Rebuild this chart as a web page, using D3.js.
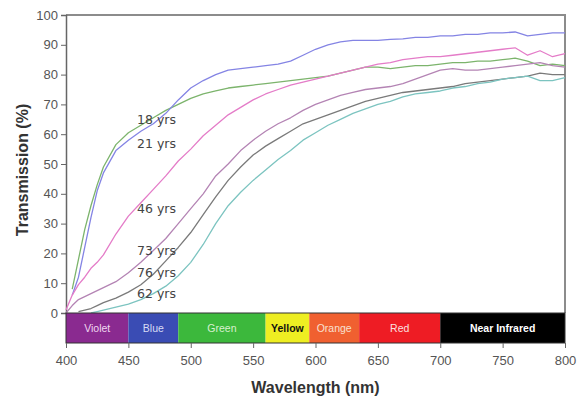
<!DOCTYPE html>
<html>
<head>
<meta charset="utf-8">
<script src="https://cdn.jsdelivr.net/npm/d3@7"></script>
<style>
  body { margin: 0; background: #fff; }
  svg { display: block; font-family: "Liberation Sans", Arial, sans-serif; }
</style>
</head>
<body>
<svg id="chart" width="579" height="399"></svg>
<script>
// wavelengths (nm) shared by every curve, null = not drawn there
var wavelengths = [400,405,410,415,420,425,430,440,450,460,470,480,490,500,510,520,530,540,550,560,570,580,590,600,610,620,630,640,650,660,670,680,690,700,710,720,730,740,750,760,770,780,790,800];

var yrs18 = [null,8,18,28,36,43,49,56.5,60.5,63,65.5,68,70,72,73.5,74.5,75.5,76,76.5,77,77.5,78,78.5,79,79.5,80.5,81.5,82.5,82.5,82,82.5,83,83,83.5,84,84,84.5,84.5,85,85.5,84.5,83,83.5,83];
var yrs21 = [null,6,12,22,32,41,47,54.5,58,61,63.5,67,71.5,75.5,78,80,81.5,82,82.5,83,83.5,84.5,86.5,88.5,90,91,91.5,91.5,91.5,91.8,92,92.5,92.5,93,93,93.5,93.5,94,94,94.3,93,93.5,94,94];
var yrs46 = [1,6,9.5,12,15,17,19.5,26.5,32.5,37,41.5,46,51,55,59.5,63,66.5,69,71.5,73.5,75,76.5,77.5,78.5,79.5,80.5,81.5,82.5,83.5,84,85,85.5,86,86,86.5,87,87.5,88,88.5,89,86.5,88,86,87];
var yrs73 = [0,2.5,4.5,5.5,6.5,7.5,8.5,10.5,13.5,17,21,25,30,35,40,46,50,54.5,58,61,63.5,65.5,68,70,71.5,73,74,75,75.5,76,77,78.5,80,81.5,82,81.5,81.5,82,82.5,83,83.5,84,83,82.5];
var yrs76 = [null,null,0.5,1,1.5,2.5,3.5,5,7,9.5,13,17.5,22,27,33,39,44.5,49,53,56,58.5,61,63.5,65,66.5,68,69.5,71,72,73,74,74.5,75,75.5,76,77,77.5,78,78.5,79,79.5,80.5,80,80];
var yrs62 = [null,null,null,null,0,0.5,1,2,3,4.5,6.5,9,12.5,17,23,30,36,40.5,44.5,48,51.5,54.5,58,60.5,63,65,67,68.5,70,71,72.5,73.5,74,74.5,75.5,76,77,77.5,78.5,79,79.5,78,78,79];

var seriesNames = ["18 yrs","21 yrs","46 yrs","73 yrs","76 yrs","62 yrs"];
var seriesValues = [yrs18, yrs21, yrs46, yrs73, yrs76, yrs62];
var seriesColors = ["#7cb46c","#8484e4","#e47cc8","#b484b4","#7a7a7a","#7cc4c0"];

// colour bands of the spectrum
var bandNames = ["Violet","Blue","Green","Yellow","Orange","Red","Near Infrared"];
var bandStarts = [400,450,490,560,595,635,700];
var bandEnds = [450,490,560,595,635,700,800];
var bandColors = ["#8a2a90","#3a4cb4","#3cb83c","#eeee22","#f06030","#ee1c24","#000000"];
var bandTextColors = ["#f0d8f0","#d8dcf4","#d8f0d0","#111111","#f8e0d0","#fbe0e0","#ffffff"];

var xTicks = [400,450,500,550,600,650,700,750,800];
var yTicks = [0,10,20,30,40,50,60,70,80,90,100];

var svg = d3.select("#chart");
var plotLeft = 66, plotRight = 565, plotTop = 15, plotBottom = 313, barH = 30;

var x = d3.scaleLinear().domain([400, 800]).range([plotLeft, plotRight]);
var y = d3.scaleLinear().domain([0, 100]).range([plotBottom, plotTop]);

// frame
svg.append("path")
  .attr("d", "M" + plotLeft + "," + plotTop + "H" + plotRight + "V" + plotBottom)
  .attr("fill", "none").attr("stroke", "#8c8c8c").attr("stroke-width", 2);

// y axis
var yAxis = svg.append("g")
  .attr("transform", "translate(" + plotLeft + ",0)")
  .call(d3.axisLeft(y).tickValues(yTicks).tickSize(5).tickPadding(3));
yAxis.select(".domain").attr("stroke", "#666").attr("stroke-width", 1.5);
yAxis.selectAll(".tick line").attr("stroke", "#666");
yAxis.selectAll("text").attr("fill", "#555").style("font-size", "13px");

// curves
var line = d3.line()
  .defined(function(d){ return d !== null; })
  .x(function(d, i){ return x(wavelengths[i]); })
  .y(function(d){ return y(d); });

seriesValues.forEach(function(vals, k){
  svg.append("path")
    .attr("d", line(vals))
    .attr("fill", "none")
    .attr("stroke", seriesColors[k])
    .attr("stroke-width", 1.3)
    .attr("stroke-linejoin", "round");
});

// curve labels
var labelY = [65, 57, 35, 21, 13.5, 6.5];
seriesNames.forEach(function(n, k){
  svg.append("text")
    .attr("x", 137).attr("y", y(labelY[k]))
    .attr("dy", "0.35em")
    .attr("fill", "#444")
    .style("font-size", "12.5px")
    .style("font-family", "'DejaVu Sans', sans-serif")
    .text(n);
});

// spectrum bar
var bands = svg.append("g");
bandNames.forEach(function(n, k){
  bands.append("rect")
    .attr("x", x(bandStarts[k])).attr("y", plotBottom)
    .attr("width", x(bandEnds[k]) - x(bandStarts[k])).attr("height", barH)
    .attr("fill", bandColors[k]);
  bands.append("text")
    .attr("x", (x(bandStarts[k]) + x(bandEnds[k])) / 2)
    .attr("y", plotBottom + barH / 2).attr("dy", "0.35em")
    .attr("text-anchor", "middle")
    .attr("fill", bandTextColors[k])
    .style("font-size", "10.5px")
    .style("font-weight", (n === "Yellow" || n === "Near Infrared") ? "bold" : "normal")
    .text(n);
});
svg.append("rect")
  .attr("x", plotLeft).attr("y", plotBottom)
  .attr("width", plotRight - plotLeft).attr("height", barH)
  .attr("fill", "none").attr("stroke", "#333").attr("stroke-width", 1);

// x axis under the bar
var xAxis = svg.append("g")
  .attr("transform", "translate(0," + (plotBottom + barH) + ")")
  .call(d3.axisBottom(x).tickValues(xTicks).tickSize(5).tickPadding(8));
xAxis.select(".domain").remove();
xAxis.selectAll(".tick line").attr("stroke", "#666");
xAxis.selectAll("text").attr("fill", "#555").style("font-size", "13px");

// axis titles
svg.append("text")
  .attr("x", (plotLeft + plotRight) / 2).attr("y", 393)
  .attr("text-anchor", "middle")
  .attr("fill", "#333")
  .style("font-size", "16px").style("font-weight", "bold")
  .text("Wavelength (nm)");

svg.append("text")
  .attr("transform", "translate(28,170) rotate(-90)")
  .attr("text-anchor", "middle")
  .attr("fill", "#333")
  .style("font-size", "16px").style("font-weight", "bold")
  .text("Transmission (%)");
</script>
</body>
</html>
